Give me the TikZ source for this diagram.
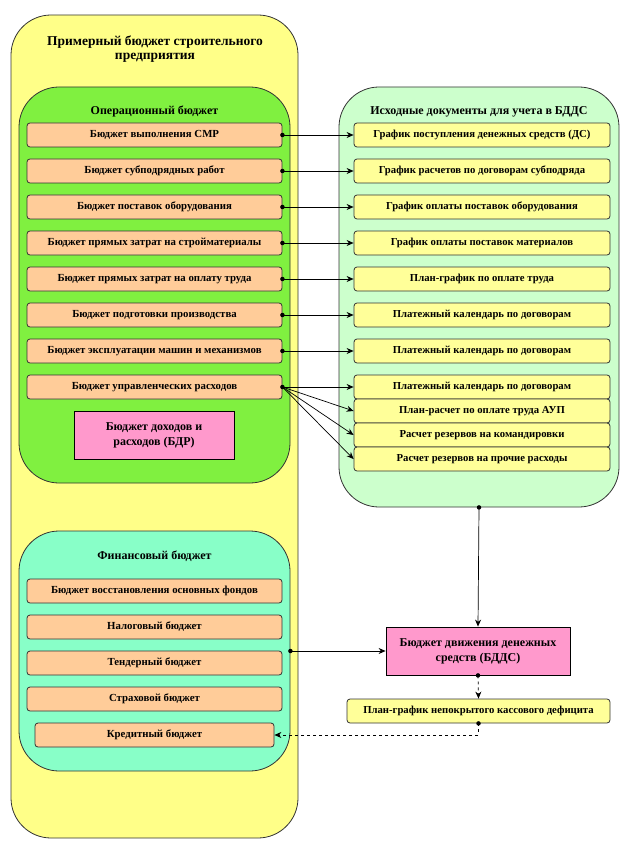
\documentclass[tikz,border=0pt]{standalone}
\usepackage{fontspec}
\setmainfont{Liberation Serif}
\usetikzlibrary{arrows.meta}
\definecolor{outery}{HTML}{FFFF88}
\definecolor{opgreen}{HTML}{80F040}
\definecolor{fingreen}{HTML}{88FFC8}
\definecolor{docgreen}{HTML}{CCFFCC}
\definecolor{obudget}{HTML}{FFCC99}
\definecolor{pinkb}{HTML}{FF99CC}
\definecolor{docy}{HTML}{FFFF99}
\tikzset{
  container/.style={draw=black!80, line width=0.8pt, rounded corners=40pt, inner sep=0pt},
  ctitle/.style={font=\bfseries\fontsize{12}{13}\selectfont, align=center, inner sep=0pt},
  obox/.style={draw=black!80, line width=0.8pt, fill=obudget, rounded corners=3pt, minimum width=255pt, minimum height=24pt, inner sep=0pt, font=\bfseries\fontsize{10.8}{11}\selectfont},
  dbox/.style={draw=black!80, line width=0.8pt, fill=docy, rounded corners=3pt, minimum width=256pt, minimum height=24pt, inner sep=0pt, font=\bfseries\fontsize{10.7}{11}\selectfont},
  pbox/.style={draw=black, line width=0.8pt, fill=pinkb, inner sep=0pt, align=center, font=\bfseries\fontsize{12}{15}\selectfont},
  conn/.style={draw=black, line width=0.7pt, -{Stealth[length=7pt,width=6pt]}},
  dconn/.style={conn, dashed},
  dotpt/.style={circle, fill=black, inner sep=0pt, minimum size=4.5pt},
}
\begin{document}
\begin{tikzpicture}[x=1pt,y=-1pt]
\useasboundingbox (0,0) rectangle (630,850);
% containers
\node[container, fill=outery, minimum width=287pt, minimum height=823pt] (outer) at (154.5,426.5) {};
\node[ctitle, font=\bfseries\fontsize{13.5}{14}\selectfont] (outt) at (155,49) {Примерный бюджет строительного\\предприятия};
\node[container, fill=opgreen, minimum width=271pt, minimum height=396pt] (op) at (154.5,285) {};
\node[ctitle] (opt) at (154.5,111) {Операционный бюджет};
\node[container, fill=docgreen, minimum width=280pt, minimum height=420pt] (docs) at (479,297) {};
\node[ctitle] (docst) at (479,112) {Исходные документы для учета в БДДС};
\node[container, fill=fingreen, minimum width=271pt, minimum height=240pt] (fin) at (154.5,651) {};
\node[ctitle] (fint) at (154.5,556) {Финансовый бюджет};
% operational boxes
\node[obox] (o1) at (154.5,135) {Бюджет выполнения СМР};
\node[obox] (o2) at (154.5,171) {Бюджет субподрядных работ};
\node[obox] (o3) at (154.5,207) {Бюджет поставок оборудования};
\node[obox] (o4) at (154.5,243) {Бюджет прямых затрат на стройматериалы};
\node[obox] (o5) at (154.5,279) {Бюджет прямых затрат на оплату труда};
\node[obox] (o6) at (154.5,315) {Бюджет подготовки производства};
\node[obox] (o7) at (154.5,351) {Бюджет эксплуатации машин и механизмов};
\node[obox] (o8) at (154.5,387) {Бюджет управленческих расходов};
\node[pbox, minimum width=160pt, minimum height=48pt] (bdr) at (154,435) {Бюджет доходов и\\расходов (БДР)};
% documents
\node[dbox] (d1) at (482,135) {График поступления денежных средств (ДС)};
\node[dbox] (d2) at (482,171) {График расчетов по договорам субподряда};
\node[dbox] (d3) at (482,207) {График оплаты поставок оборудования};
\node[dbox] (d4) at (482,243) {График оплаты поставок материалов};
\node[dbox] (d5) at (482,279) {План-график по оплате труда};
\node[dbox] (d6) at (482,315) {Платежный календарь по договорам};
\node[dbox] (d7) at (482,351) {Платежный календарь по договорам};
\node[dbox] (d8) at (482,387) {Платежный календарь по договорам};
\node[dbox] (d9) at (482,411) {План-расчет по оплате труда АУП};
\node[dbox] (d10) at (482,435) {Расчет резервов на командировки};
\node[dbox] (d11) at (482,459) {Расчет резервов на прочие расходы};
% financial
\node[obox] (f1) at (154.5,591) {Бюджет восстановления основных фондов};
\node[obox] (f2) at (154.5,627) {Налоговый бюджет};
\node[obox] (f3) at (154.5,663) {Тендерный бюджет};
\node[obox] (f4) at (154.5,699) {Страховой бюджет};
\node[obox, minimum width=239pt] (f5) at (154.5,735) {Кредитный бюджет};
% BDDS
\node[pbox, minimum width=184pt, minimum height=48pt] (bdds) at (478,651) {Бюджет движения денежных\\средств (БДДС)};
\node[dbox, minimum width=263pt] (plan) at (478.5,711) {План-график непокрытого кассового дефицита};
% connectors
\foreach \i in {1,...,8}{
  \node[dotpt] (s\i) at (o\i.east) {};
  \draw[conn] (o\i.east) -- (d\i.west);
}
\draw[conn] (o8.east) -- (d9.west);
\draw[conn] (o8.east) -- (d10.west);
\draw[conn] (o8.east) -- (d11.west);
\coordinate (docsb) at (docs.south);
\node[dotpt] (dsb) at (docsb) {};
\draw[conn] (docsb) -- (bdds.north);
\coordinate (fine) at (fin.east);
\node[dotpt] (fed) at (fine) {};
\draw[conn] (fine) -- (bdds.west);
\node[dotpt] (bsd) at (bdds.south) {};
\draw[dconn] (bdds.south) -- (plan.north);
\node[dotpt] (psd) at (plan.south) {};
\draw[dconn] (plan.south) |- (f5.east);
\end{tikzpicture}
\end{document}
